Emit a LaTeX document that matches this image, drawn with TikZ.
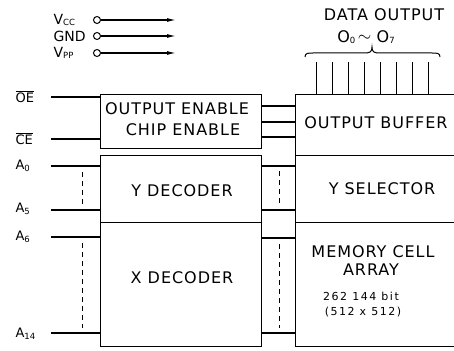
\documentclass[tikz,border=0pt]{standalone}
\usepackage{fontspec}
\setmainfont{DejaVu Sans}[LetterSpace=6]
\newfontfamily\pinfont{DejaVu Sans}
\usepackage{tikz}
\usetikzlibrary{arrows.meta, positioning}
\newcommand{\pinsub}[1]{\raisebox{-1.5pt}{\fontsize{8.5}{9}\selectfont #1}}
\newcommand{\pinbar}[1]{$\overline{\hbox{#1}}$}

\begin{document}
\begin{tikzpicture}[x=1pt, y=-1pt, line width=1.2pt, font=\fontsize{16}{18}\selectfont]
    % Define styles
    \tikzstyle{block} = [rectangle, draw=black, line width=1.4pt, inner sep=0pt, anchor=north west]
    \tikzstyle{pin} = [anchor=west, inner sep=0pt, font=\pinfont\fontsize{13}{14}\selectfont]
    \tikzstyle{supply} = [anchor=west, inner sep=0pt, font=\pinfont\fontsize{14}{15}\selectfont]
    \tikzstyle{blocktext} = [align=center, inner sep=0pt]
    \tikzstyle{smalltext} = [align=center, inner sep=0pt, font=\fontsize{11}{12}\selectfont\addfontfeature{LetterSpace=14}]
    \tikzstyle{bus} = [dash pattern=on 5pt off 4pt, line width=1pt]
    \tikzstyle{arrow} = [-{Latex[length=9pt, width=4pt]}]

    \clip (0,0) rectangle (454,350);

    % Blocks
    \node (ctrl) [block, minimum width=161, minimum height=54] at (100,94) {};
    \node (ydec) [block, minimum width=161, minimum height=67] at (100,155) {};
    \node (xdec) [block, minimum width=161, minimum height=124] at (100,222) {};
    \node (buf) [block, minimum width=180, minimum height=61] at (295,94) {};
    \node (ysel) [block, minimum width=180, minimum height=67] at (295,155) {};
    \node (mem) [block, minimum width=180, minimum height=124] at (295,222) {};

    % Block texts
    \node [blocktext] at (177,109) {OUTPUT ENABLE};
    \node [blocktext] at (183,130) {CHIP ENABLE};
    \node [blocktext] at (182,191) {Y DECODER};
    \node [blocktext] at (182,278) {X DECODER};
    \node [blocktext] at (376,123) {OUTPUT BUFFER};
    \node [blocktext] at (382,189) {Y SELECTOR};
    \node [blocktext] at (373,252) {MEMORY CELL};
    \node [blocktext] at (371,270) {ARRAY};
    \node [smalltext] at (361,296) {262 144 bit};
    \node [smalltext] at (363,312) {(512 x 512)};

    % Power pins
    \node (vcc) [supply] at (53,20) {V\pinsub{CC}};
    \node (gnd) [supply] at (53,36) {GND};
    \node (vpp) [supply] at (53,53) {V\pinsub{PP}};
    \foreach \p/\y in {vcc/20, gnd/36, vpp/53} {
        \node (\p-o) [circle, draw, line width=1pt, minimum size=7pt, inner sep=0pt] at (97,\y) {};
        \coordinate (\p-end) at (176,\y);
        \draw [arrow] (\p-o) -- (\p-end);
    }

    % Control and address pins
    \node (oe) [pin] at (15,97) {\pinbar{OE}};
    \node (ce) [pin] at (15,139) {\pinbar{CE}};
    \node (a0) [pin] at (15,166) {A\pinsub{0}};
    \node (a5) [pin] at (15,209) {A\pinsub{5}};
    \node (a6) [pin] at (15,237) {A\pinsub{6}};
    \node (a14) [pin] at (15,334) {A\pinsub{14}};
    \foreach \p/\y/\b in {oe/97/ctrl, ce/139/ctrl, a0/166/ydec, a5/210/ydec, a6/237/xdec, a14/333/xdec} {
        \coordinate (\p-in) at (51,\y);
        \draw (\p-in) -- (\p-in -| \b.west);
    }
    \draw [bus] (82,172) -- (82,205);
    \draw [bus] (82,243) -- (82,328);

    % Links between the two columns
    \foreach \y in {106, 122, 137}
        \draw (ctrl.east |- 0,\y) -- (buf.west |- 0,\y);
    \foreach \y in {166, 210}
        \draw (ydec.east |- 0,\y) -- (ysel.west |- 0,\y);
    \foreach \y in {238, 333}
        \draw (xdec.east |- 0,\y) -- (mem.west |- 0,\y);
    \draw [bus] (279,171) -- (279,204);
    \draw [bus] (279,244) -- (279,328);

    % Data outputs
    \node (dout) [blocktext] at (384,15) {DATA OUTPUT};
    \node (dbits) [blocktext] at (366,37) {O\pinsub{0}\,\raisebox{1pt}{$\sim$}\,\,O\pinsub{7}};
    \coordinate (br-l) at (305,57);
    \coordinate (br-tip) at (372,47);
    \coordinate (br-r) at (440,57);
    \draw [line width=1pt] (br-l) .. controls (305,53) and (308,53) .. (313,53)
        -- (364,53) .. controls (370,53) and (372,52) .. (br-tip)
        .. controls (372,52) and (374,53) .. (380,53)
        -- (432,53) .. controls (437,53) and (440,53) .. (br-r);
    \foreach \i in {0,...,7} {
        \coordinate (d\i) at (316+16.1*\i,62);
        \draw [line width=1pt] (d\i) -- (d\i |- buf.north);
    }
\end{tikzpicture}
\end{document}
